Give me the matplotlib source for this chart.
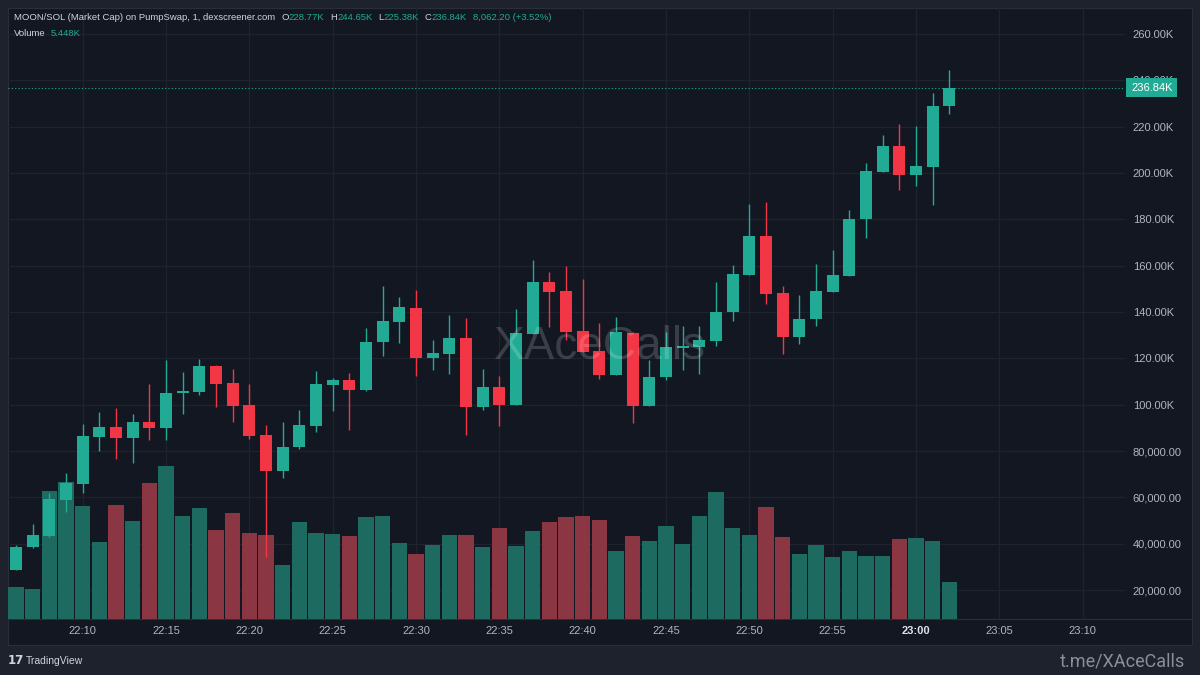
import matplotlib
matplotlib.use("Agg")
import matplotlib.pyplot as plt
from matplotlib.patches import Rectangle
from matplotlib.lines import Line2D
from matplotlib.transforms import blended_transform_factory
import numpy as np

# ---------------- data (market cap in K, volume in K) ----------------
start_minute = 22 * 60 + 6  # first candle 22:06, 1-minute candles
opens = [28.6, 38.5, 43.3, 58.8, 65.8, 86.0, 90.2, 85.6, 92.4, 89.8,
         105.0, 105.6, 116.8, 109.2, 100.0, 86.9, 71.5, 81.6, 90.9, 108.5,
         110.6, 106.3, 126.9, 135.8, 141.9, 120.3, 121.8, 128.6, 99.0, 107.5,
         99.9, 130.5, 153.1, 149.1, 131.8, 123.2, 112.8, 131.1, 99.6, 111.8,
         124.4, 125.0, 127.6, 139.9, 155.8, 172.6, 148.0, 129.0, 137.0, 148.8,
         155.4, 180.0, 200.4, 211.6, 199.0, 202.5, 228.77]
highs = [39.4, 48.5, 62.0, 70.6, 91.7, 96.7, 98.6, 96.0, 108.9, 119.3,
         114.1, 119.7, 117.0, 115.4, 108.8, 91.2, 92.4, 97.7, 114.7, 111.6,
         113.8, 133.0, 151.4, 146.3, 149.5, 127.9, 138.7, 137.3, 115.4, 112.4,
         141.2, 162.4, 157.4, 160.0, 154.1, 135.4, 138.0, 131.5, 119.3, 131.5,
         134.0, 134.0, 152.8, 160.3, 186.8, 187.3, 151.4, 147.2, 160.9, 166.8,
         184.1, 204.1, 216.6, 221.3, 220.1, 234.7, 244.65]
lows = [28.5, 38.3, 43.0, 53.8, 61.9, 80.0, 76.4, 74.7, 84.8, 84.8,
        96.0, 104.2, 98.9, 92.7, 85.2, 34.4, 68.2, 80.9, 88.3, 97.4,
        89.1, 106.0, 121.0, 126.8, 112.4, 115.0, 113.2, 86.9, 97.7, 90.9,
        99.9, 130.5, 133.4, 127.9, 122.9, 110.9, 112.8, 92.2, 99.6, 110.7,
        115.0, 113.2, 125.3, 136.2, 155.8, 143.6, 121.7, 126.4, 133.9, 148.8,
        155.4, 171.9, 200.4, 192.8, 194.3, 186.3, 225.38]
closes = [38.7, 43.6, 59.2, 66.3, 86.5, 90.2, 85.6, 92.4, 89.8, 105.2,
          106.0, 116.8, 108.9, 99.6, 86.6, 71.5, 81.9, 91.2, 108.9, 110.6,
          106.3, 127.2, 136.1, 142.0, 120.0, 122.2, 128.6, 99.0, 107.5, 99.9,
          130.8, 153.1, 148.8, 131.5, 122.9, 112.8, 131.2, 99.6, 112.1, 124.8,
          125.3, 127.9, 140.1, 156.4, 172.6, 147.6, 129.0, 137.0, 149.1, 155.8,
          180.2, 200.9, 211.6, 199.0, 202.9, 228.78, 236.84]
volumes = [4.61, 4.38, 18.73, 19.94, 16.44, 11.18, 16.69, 14.35, 19.86, 22.38,
           14.98, 16.21, 13.04, 15.48, 12.56, 12.21, 7.83, 14.10, 12.56, 12.45,
           12.06, 14.83, 14.98, 11.10, 9.53, 10.80, 12.31, 12.21, 10.45, 13.29,
           10.60, 12.79, 14.10, 14.83, 14.98, 14.50, 9.97, 12.06, 11.33, 13.52,
           10.99, 14.98, 18.48, 13.29, 12.21, 16.29, 11.96, 9.53, 10.86, 9.11,
           10.00, 9.27, 9.27, 11.65, 11.81, 11.39, 5.448]
time_tick_labels = ["22:10", "22:15", "22:20", "22:25", "22:30", "22:35", "22:40",
                    "22:45", "22:50", "22:55", "23:00", "23:05", "23:10"]
price_ticks = [20, 40, 60, 80, 100, 120, 140, 160, 180, 200, 220, 240, 260]
last_price = 236.84
header_title = "MOON/SOL (Market Cap) on PumpSwap, 1, dexscreener.com"
header_ohlc = [("O", "228.77K"), ("H", "244.65K"), ("L", "225.38K"), ("C", "236.84K")]
header_change = "8,062.20 (+3.52%)"
header_volume = "5.448K"

# ---------------- style ----------------
W, H = 1200, 675
OUTER = "#1e222d"
PANE = "#131722"
BORDER = "#2a2e39"
GRID = "#1f2330"
GREEN = "#22ab94"
RED = "#f23645"
VGREEN = "#1d6a60"
VRED = "#8a3743"
TXT = "#d1d4dc"
AXTXT = "#b2b5be"
FONT = ["Liberation Sans", "DejaVu Sans"]

opens = np.array(opens); highs = np.array(highs)
lows = np.array(lows); closes = np.array(closes); volumes = np.array(volumes)
n = len(opens)
xs = np.arange(n)
up = closes >= opens
ccol = np.where(up, GREEN, RED)
vcol = np.where(up, VGREEN, VRED)

fig = plt.figure(figsize=(W / 100, H / 100), dpi=100)
fig.patch.set_facecolor(OUTER)

# chart pane
fig.add_artist(Rectangle((8 / W, 30 / H), 1184 / W, 637 / H, transform=fig.transFigure,
                         fc=PANE, ec=BORDER, lw=0.8, zorder=-1))
fig.add_artist(Line2D([8 / W, 1192 / W], [1 - 619 / H, 1 - 619 / H], transform=fig.transFigure,
                      color=BORDER, lw=0.8, zorder=-0.5))

rect = [8 / W, 1 - 619 / H, (1125 - 8) / W, (619 - 8) / H]
ax_vol = fig.add_axes(rect, zorder=1)
ax = fig.add_axes(rect, zorder=2)
for a in (ax_vol, ax):
    a.patch.set_visible(False)
    for s in a.spines.values():
        s.set_visible(False)

x_left, x_right = -0.48, 66.54
ax.set_xlim(x_left, x_right)
ax_vol.set_xlim(x_left, x_right)
ax.set_ylim(7.5, 271.2)
ax_vol.set_ylim(0, 89.2)
ax_vol.set_xticks([]); ax_vol.set_yticks([])

tick_pos = []
for lab in time_tick_labels:
    hh, mm = lab.split(":")
    tick_pos.append(int(hh) * 60 + int(mm) - start_minute)

# grid (drawn beneath volume bars)
hz = blended_transform_factory(ax_vol.transAxes, ax.transData)
for p in price_ticks:
    ax_vol.add_line(Line2D([0, 1], [p, p], transform=hz, color=GRID, lw=0.9, zorder=0))
for t in tick_pos:
    ax_vol.axvline(t, color=GRID, lw=0.9, zorder=0)

# volume
ax_vol.bar(xs, volumes, width=0.93, color=vcol, zorder=1)

# candles
ax.vlines(xs, lows, highs, colors=ccol, lw=1.0, zorder=3)
ax.bar(xs, np.maximum(np.abs(closes - opens), 0.5), bottom=np.minimum(opens, closes),
       width=0.72, color=ccol, zorder=4)

# last price line & tag
ax.axhline(last_price, color=GREEN, lw=0.8, linestyle=(0, (1, 2)), zorder=2)
tag_tr = blended_transform_factory(ax.transAxes, ax.transData)
ax.text(1.0 + 6 / 1117, last_price, f"{last_price:.2f}K", transform=tag_tr, ha="left",
        va="center", color="white", fontsize=8, family=FONT, clip_on=False, zorder=10,
        bbox=dict(boxstyle="square,pad=0.42", fc=GREEN, ec="none"))

# axes ticks
ax.set_xticks(tick_pos)
ax.set_xticklabels(time_tick_labels)
ax.tick_params(axis="x", length=0, pad=5, labelsize=8, labelcolor=AXTXT)
for lab in ax.get_xticklabels():
    lab.set_family(FONT)
    if lab.get_text() == "23:00":
        lab.set_fontweight("bold")
        lab.set_color("#e0e3eb")

def fmt(v):
    return f"{v:.2f}K" if v >= 100 else f"{v * 1000:,.2f}"

ax.yaxis.tick_right()
ax.set_yticks(price_ticks)
ax.set_yticklabels([fmt(v) for v in price_ticks])
ax.tick_params(axis="y", length=0, pad=5.6, labelsize=8, labelcolor=AXTXT)
for lab in ax.get_yticklabels():
    lab.set_family(FONT)

# watermark
fig.text(600 / W, 1 - 347 / H, "XAceCalls", ha="center", va="center", fontsize=33,
         family=FONT, color="white", alpha=0.17, zorder=20)

# header legend
fig.canvas.draw()
r = fig.canvas.get_renderer()
xpos = 14
y1 = 1 - 17 / H
pieces = [(header_title, TXT, 6)]
for k, v in header_ohlc:
    pieces.append((k, TXT, 0))
    pieces.append((v, GREEN, 6))
pieces.append((header_change, GREEN, 0))
for s, c, gap in pieces:
    t = fig.text(xpos / W, y1, s, color=c, fontsize=6.8, family=FONT, ha="left", va="center")
    xpos += t.get_window_extent(renderer=r).width + gap
t = fig.text(14 / W, 1 - 34 / H, "Volume", color=TXT, fontsize=6.8, family=FONT,
             ha="left", va="center")
vx = 14 + t.get_window_extent(renderer=r).width + 5
fig.text(vx / W, 1 - 34 / H, header_volume, color=GREEN, fontsize=6.8, family=FONT,
         ha="left", va="center")

# footer
fig.text(8 / W, 1 - 661 / H, "17", color=TXT, fontsize=8.5, fontweight="heavy",
         family=["DejaVu Sans"], ha="left", va="center")
fig.text(26 / W, 1 - 661 / H, "TradingView", color=TXT, fontsize=7.5, family=FONT,
         ha="left", va="center")
fig.text(1185 / W, 1 - 661 / H, "t.me/XAceCalls", color="#8b8e97", fontsize=13,
         family=["Roboto", "DejaVu Sans"], ha="right", va="center")

fig.savefig("out.png", dpi=100, facecolor=OUTER)
